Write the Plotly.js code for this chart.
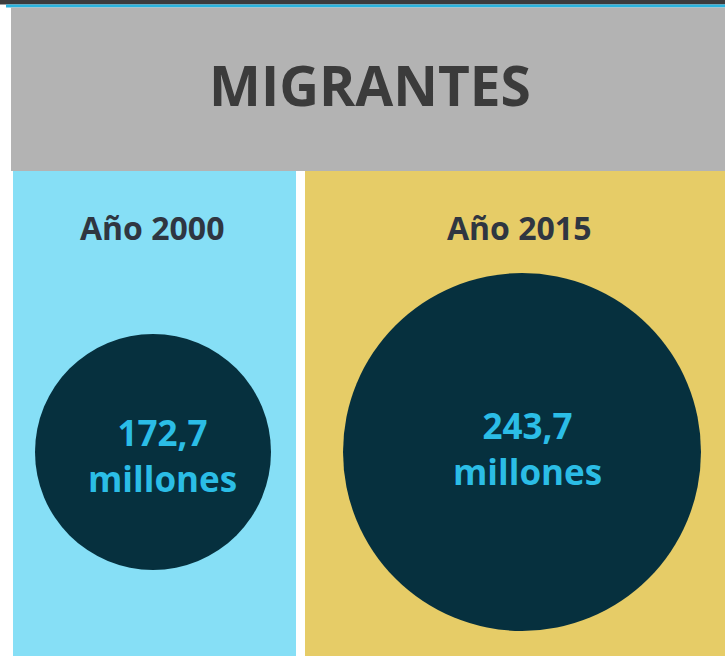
<!DOCTYPE html>
<html>
<head>
<meta charset="utf-8">
<script src="https://cdn.plot.ly/plotly-3.0.1.min.js"></script>
<style>html,body{margin:0;padding:0;background:#fff;}#chart{width:725px;height:656px;}</style>
</head>
<body>
<div id="chart"></div>
<script>
// Data
const chartTitle = 'MIGRANTES';
const years = ['Año 2000', 'Año 2015'];
const migrantsMillions = [172.7, 243.7];
const unitLabel = 'millones';

// Styling helpers
function fmt(v) { return v.toFixed(1).replace('.', ','); }
function diameterFor(v) { return 1.718 * v - 60.7; }

const W = 725, H = 656;
const px = v => v / W;            // horizontal paper fraction
const py = v => 1 - v / H;        // vertical paper fraction (from top)

const shapes = [
  {type:'rect', xref:'paper', yref:'paper', x0:0, x1:1, y0:0, y1:1, fillcolor:'#ffffff', line:{width:0}, layer:'below'},
  {type:'rect', xref:'paper', yref:'paper', x0:0, x1:1, y0:py(4.5), y1:1, fillcolor:'#3c3c3e', line:{width:0}, layer:'below'},
  {type:'rect', xref:'paper', yref:'paper', x0:px(6), x1:1, y0:py(7.5), y1:py(4.5), fillcolor:'#2ab4df', line:{width:0}, layer:'below'},
  {type:'rect', xref:'paper', yref:'paper', x0:px(11), x1:1, y0:py(171), y1:py(7.5), fillcolor:'#b3b3b3', line:{width:0}, layer:'below'},
  {type:'rect', xref:'paper', yref:'paper', x0:px(13), x1:px(296), y0:0, y1:py(171), fillcolor:'#86dff6', line:{width:0}, layer:'below'},
  {type:'rect', xref:'paper', yref:'paper', x0:px(305), x1:1, y0:0, y1:py(171), fillcolor:'#e6cc67', line:{width:0}, layer:'below'}
];

const trace = {
  type: 'scatter',
  mode: 'markers',
  x: years,
  y: years.map(() => 0),
  marker: {
    size: migrantsMillions.map(diameterFor),
    sizemode: 'diameter',
    color: '#06303e',
    line: {width: 0},
    opacity: 1
  },
  hoverinfo: 'skip',
  cliponaxis: false
};

const labelShift = [{dx: 9, dy: -3}, {dx: 5, dy: 4}];
const valueLabels = years.map((y, i) => ({
  xref: 'x', yref: 'y', x: y, y: 0, xanchor: 'center', yanchor: 'middle',
  xshift: labelShift[i].dx, yshift: labelShift[i].dy,
  text: fmt(migrantsMillions[i]) + '<br>' + unitLabel, showarrow: false,
  font: {family: 'Open Sans, sans-serif', size: 35, color: '#2bbde6', weight: 700}
}));

const yearShift = [-1, -3];
const yearLabels = years.map((y, i) => ({
  xref: 'x', yref: 'paper', x: y, y: py(228), yanchor: 'middle', xanchor: 'center',
  xshift: yearShift[i],
  text: y, showarrow: false,
  font: {family: 'Open Sans, sans-serif', size: 32, color: '#2f3641', weight: 700}
}));

const layout = {
  width: W, height: H,
  margin: {l:0, r:0, t:0, b:0, pad:0},
  paper_bgcolor: '#ffffff',
  plot_bgcolor: 'rgba(0,0,0,0)',
  showlegend: false,
  title: {
    text: chartTitle,
    x: px(370), xref: 'paper', xanchor: 'center',
    y: py(87), yref: 'paper', yanchor: 'middle',
    font: {family: 'Open Sans, sans-serif', size: 55, color: '#3b3b3b', weight: 700}
  },
  xaxis: {type:'category', range:[-153/369, (725-153)/369], visible:false, fixedrange:true},
  yaxis: {range:[-204, 452], visible:false, fixedrange:true},
  shapes: shapes,
  annotations: yearLabels.concat(valueLabels)
};

Plotly.newPlot('chart', [trace], layout, {displayModeBar:false, staticPlot:true});
</script>
</body>
</html>
